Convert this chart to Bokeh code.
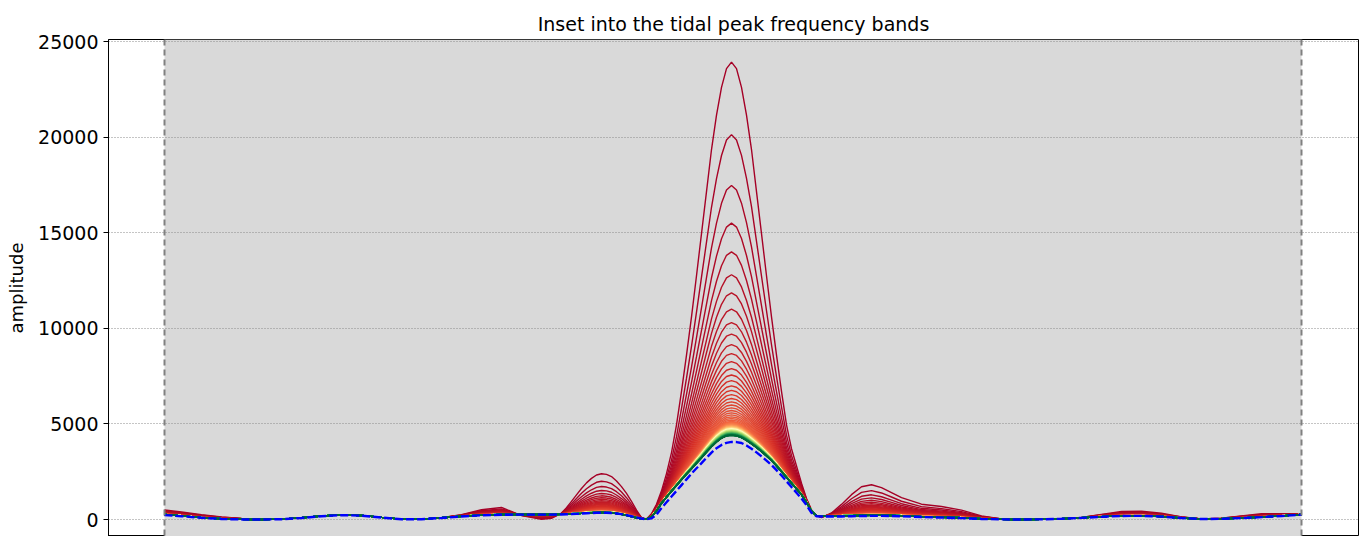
import numpy as np
from bokeh.plotting import figure
from bokeh.models import Range1d, BoxAnnotation, Span, FixedTicker
from bokeh.embed import file_html
from bokeh.resources import INLINE

# ---------------- data ----------------
freq = [6.3, 8, 10, 12, 14, 16, 18, 20, 22, 24, 26, 28, 30, 32, 34, 36, 38, 40, 42,
        44, 45,
        46, 46.5, 47, 47.5, 48, 48.5, 49, 49.5, 50, 50.5, 51, 51.5, 52, 52.5, 53, 53.5, 54,
        54.5, 55, 55.5, 56, 56.5, 57, 57.5, 58, 58.5, 59, 59.5, 60, 60.5, 61, 61.5, 62, 62.5,
        63, 63.5, 64, 64.5, 65, 65.5, 66, 66.5, 67, 67.5, 68, 68.5, 69, 69.5, 70, 70.5, 71, 71.5,
        72, 73, 74, 75, 76, 77, 78, 79, 80,
        82, 84, 86, 88, 90, 92, 94, 96, 98, 100, 102, 104, 106, 108, 110, 112, 114, 116, 118, 120]

# converged (green) spectrum
base_amp = [260, 190, 100, 40, 10, 0, 20, 90, 180, 240, 210, 110, 20, 20, 90, 170, 230, 260, 265,
            265, 265,
            275, 285, 295, 307, 320, 335, 350, 360, 365, 358, 345, 315, 270, 215, 150, 90, 40,
            20, 150, 450, 850, 1170, 1480, 1780, 2080, 2370, 2650, 2940, 3220, 3520, 3800, 4050, 4250, 4370,
            4400, 4370, 4280, 4130, 3950, 3760, 3550, 3320, 3080, 2800, 2500, 2200, 1900, 1600, 1300, 900, 450, 200,
            195, 190, 190, 200, 210, 220, 220, 210, 190,
            150, 120, 90, 40, 10, 0, 10, 40, 90, 150, 195, 200, 160, 80, 30, 40, 80, 130, 190, 260]

# extra amplitude of the top (dark red) curve above the converged spectrum
excess_amp = [240, 200, 150, 100, 50, 0, 0, 0, 0, 0, 0, 0, 0, 0, 10, 80, 280, 370, -60,
              -260, -200,
              60, 330, 650, 980, 1300, 1580, 1800, 1970, 2030, 2000, 1900, 1700, 1450, 1150, 800, 400, 60,
              0, 150, 350, 650, 1230, 2020, 3170, 4620, 6230, 7950, 9810, 11730, 13630, 15550, 17100, 18350, 19210,
              19520, 19210, 18320, 17020, 15400, 13390, 11400, 9430, 7520, 5800, 4200, 2750, 1800, 1200, 600, 200, 50, 0,
              -100, 150, 600, 1100, 1500, 1600, 1450, 1200, 950,
              650, 560, 400, 150, 20, 0, 0, 0, 20, 120, 220, 230, 170, 60, 0, 30, 110, 170, 120, 30]

# reference spectrum (blue dashed)
blue_amp = [230, 170, 90, 30, 0, 0, 15, 80, 170, 230, 200, 100, 15, 15, 80, 160, 220, 250, 255,
            255, 255,
            265, 275, 285, 297, 310, 325, 340, 350, 355, 350, 340, 315, 280, 230, 170, 110, 50,
            10, 60, 250, 600, 900, 1200, 1500, 1800, 2100, 2400, 2680, 2950, 3230, 3500, 3730, 3900, 4010,
            4060, 4050, 4000, 3870, 3700, 3510, 3300, 3080, 2850, 2580, 2300, 2000, 1700, 1400, 1100, 750, 350, 170,
            160, 160, 160, 170, 180, 190, 190, 180, 165,
            130, 100, 70, 30, 5, 0, 10, 40, 85, 140, 185, 190, 150, 75, 25, 35, 75, 125, 180, 250]

# main-peak amplitude of each curve, from dark red to green
peak_amps = [23920, 20130, 17470, 15500, 14000, 12800, 11850, 11000, 10300, 9700,
             9150, 8680, 8260, 7890, 7560, 7260, 6990, 6750, 6530, 6330,
             6150, 5990, 5840, 5700, 5580, 5470, 5370, 5280, 5200, 5130,
             5100, 5075, 5052, 5030, 5010, 4992, 4975, 4960, 4946, 4933,
             4921, 4910, 4899, 4889, 4879, 4870, 4861, 4853,
             4845, 4838, 4831, 4824, 4818, 4812, 4806, 4800, 4795, 4790,
             4785, 4780, 4776, 4772, 4768, 4764, 4760, 4756, 4752, 4748,
             4745, 4742, 4739, 4736, 4733, 4730, 4727, 4724, 4721, 4718, 4715, 4712,
             4709, 4705, 4701, 4697, 4693, 4689, 4685, 4681, 4677, 4673,
             4669, 4665, 4661, 4657, 4653, 4649, 4645, 4641, 4637, 4633,
             4629, 4625, 4621, 4617, 4613, 4609, 4605, 4601, 4597, 4593,
             4589, 4585, 4581, 4577, 4573, 4569, 4565, 4561, 4557, 4553,
             4549, 4545, 4541, 4537, 4533, 4529, 4525, 4521, 4517, 4513,
             4509, 4505, 4501, 4497, 4493, 4489, 4485, 4481, 4477, 4473,
             4469, 4465, 4461, 4457, 4453, 4449, 4445, 4441, 4437, 4433,
             4429, 4426, 4423, 4420, 4417, 4414, 4411, 4408, 4405, 4402]

band_edges = [6.3, 120.0]
y_ticks = [0, 5000, 10000, 15000, 20000, 25000]
title_text = "Inset into the tidal peak frequency bands"
y_label = "amplitude"

# ---------------- colours ----------------
rdylgn = ['#a50026', '#d73027', '#f46d43', '#fdae61', '#fee08b', '#ffffbf',
          '#d9ef8b', '#a6d96a', '#66bd63', '#1a9850', '#006837']


def hex2rgb(h):
    return np.array([int(h[i:i + 2], 16) for i in (1, 3, 5)], dtype=float)


stops = np.array([hex2rgb(c) for c in rdylgn])


def cmap(t):
    pos = t * (len(stops) - 1)
    i = min(int(np.floor(pos)), len(stops) - 2)
    f = pos - i
    c = stops[i] * (1 - f) + stops[i + 1] * f
    return "#%02x%02x%02x" % tuple(int(round(v)) for v in c)


# ---------------- figure ----------------
p = figure(width=1364, height=536, output_backend="svg", toolbar_location=None,
           x_range=Range1d(0.7, 125.7), y_range=Range1d(-889, 25105),
           x_axis_location=None, min_border_left=108, min_border_right=6,
           min_border_bottom=0, min_border_top=39, background_fill_color="white")

p.title.text = title_text
p.title.text_font = "DejaVu Sans"
p.title.text_font_style = "normal"
p.title.text_font_size = "19px"
p.title.align = "center"
p.title.text_color = "#000000"
p.title.standoff = 10

p.outline_line_color = "black"
p.outline_line_width = 1
p.xgrid.visible = False
p.ygrid.ticker = FixedTicker(ticks=y_ticks)
p.ygrid.grid_line_color = "#8a8a8a"
p.ygrid.grid_line_dash = "1 2"
p.ygrid.grid_line_width = 1

ax = p.yaxis[0]
ax.ticker = FixedTicker(ticks=y_ticks)
ax.axis_label = y_label
ax.axis_label_text_font = "DejaVu Sans"
ax.axis_label_text_font_style = "normal"
ax.axis_label_text_font_size = "18px"
ax.axis_label_text_color = "#000000"
ax.axis_label_standoff = 8
ax.major_label_text_font = "DejaVu Sans"
ax.major_label_text_font_size = "19px"
ax.major_label_text_color = "#000000"
ax.major_label_standoff = 5
ax.major_tick_out = 5
ax.major_tick_in = 0
ax.minor_tick_line_color = None
ax.axis_line_color = "black"

band = BoxAnnotation(left=band_edges[0], right=band_edges[1], fill_color="#d9d9d9",
                     fill_alpha=1.0, line_color=None, level="image")
p.add_layout(band)

x = np.array(freq, dtype=float)
base = np.array(base_amp, dtype=float)
exc = np.array(excess_amp, dtype=float)
top_exc = exc.max()
n = len(peak_amps)
for i, pk in enumerate(peak_amps):
    k = (pk - base.max()) / top_exc
    y = base + k * exc
    p.line(x, y, line_color=cmap(i / (n - 1)), line_width=1.4)

p.line(x, blue_amp, line_color="#0000ff", line_width=2.4, line_dash="8 3")

for e in band_edges:
    p.add_layout(Span(location=e, dimension="height", line_color="#808080",
                      line_width=2, line_dash="6 4"))

open("out.html", "w").write(file_html(p, INLINE))
